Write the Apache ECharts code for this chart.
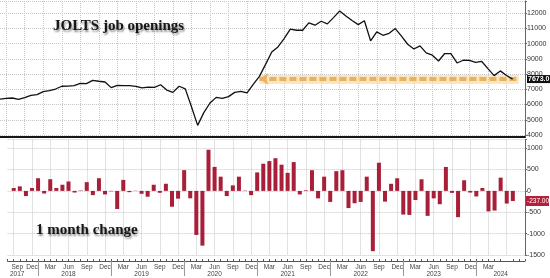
<!DOCTYPE html>
<html><head><meta charset="utf-8">
<script src="https://cdn.jsdelivr.net/npm/echarts@6/dist/echarts.min.js"></script>
<style>html,body{margin:0;padding:0;background:#fff}#c{width:550px;height:278px}</style>
</head><body><div id="c"></div>
<script>
const months = [
'Aug 2017','Sep 2017','Oct 2017','Nov 2017','Dec 2017',
'Jan 2018','Feb 2018','Mar 2018','Apr 2018','May 2018','Jun 2018','Jul 2018','Aug 2018','Sep 2018','Oct 2018','Nov 2018','Dec 2018',
'Jan 2019','Feb 2019','Mar 2019','Apr 2019','May 2019','Jun 2019','Jul 2019','Aug 2019','Sep 2019','Oct 2019','Nov 2019','Dec 2019',
'Jan 2020','Feb 2020','Mar 2020','Apr 2020','May 2020','Jun 2020','Jul 2020','Aug 2020','Sep 2020','Oct 2020','Nov 2020','Dec 2020',
'Jan 2021','Feb 2021','Mar 2021','Apr 2021','May 2021','Jun 2021','Jul 2021','Aug 2021','Sep 2021','Oct 2021','Nov 2021','Dec 2021',
'Jan 2022','Feb 2022','Mar 2022','Apr 2022','May 2022','Jun 2022','Jul 2022','Aug 2022','Sep 2022','Oct 2022','Nov 2022','Dec 2022',
'Jan 2023','Feb 2023','Mar 2023','Apr 2023','May 2023','Jun 2023','Jul 2023','Aug 2023','Sep 2023','Oct 2023','Nov 2023','Dec 2023',
'Jan 2024','Feb 2024','Mar 2024','Apr 2024','May 2024','Jun 2024','Jul 2024','Aug 2024','Sep 2024'
];
// JOLTS job openings (thousands), Aug 2017 .. Jul 2024
const openings = [
6360,6410,6430,6340,6450,
6600,6650,6850,6910,7020,7200,7210,7240,7390,7370,7590,7530,
7480,7110,7260,7240,7240,7200,7090,7150,7130,7300,6950,6800,
7200,7030,5850,4630,5470,6100,6470,6410,6520,6800,6870,6760,
7330,7850,8640,9450,9780,10330,10950,10880,10880,11360,11210,11470,
11300,11710,12150,11820,11520,11250,11500,10180,10770,10550,10680,10990,
10490,9960,9650,9850,9390,9240,8860,9350,9350,8730,8910,8900,
8770,8830,8360,7900,8210,7910,7673
];
// 1 month change (thousands)
const changes = [
null,68,106,-121,68,
296,-61,273,68,144,220,-38,10,205,-99,296,-83,
-10,-424,258,-30,5,-68,-136,144,-45,167,-371,-182,
485,-174,-1031,-1281,963,561,333,-121,129,333,8,-99,
432,636,697,765,613,423,674,-84,15,484,-175,333,
-258,462,484,-402,-289,-258,333,-1410,659,-251,166,295,
-554,-562,-213,272,-584,-175,-312,560,-46,-615,249,-39,
-130,67,-480,-460,310,-296,-237
];
const labelMonths = ['Mar','Jun','Sep','Dec'];
const yearLabels = {'Sep 2017':'2017','Jun 2018':'2018','Jun 2019':'2019','Jun 2020':'2020','Jun 2021':'2021','Jun 2022':'2022','Jun 2023':'2023','May 2024':'2024'};
const bandStart = 'Feb 2021', bandEnd = 'Aug 2024';
const lastIdx = openings.length - 1;
const lastOpening = openings[lastIdx];
const lastChange = changes[changes.length - 1];

const isLabelMonth = (i) => i <= lastIdx && labelMonths.indexOf(months[i].slice(0,3)) >= 0;
const showLabel = (i) => isLabelMonth(i) || !!yearLabels[months[i]];
const isJan = (i) => months[i].slice(0,3) === 'Jan';

const sans = 'Liberation Sans, Arial, sans-serif';
const serif = 'Liberation Serif, DejaVu Serif, serif';
const gridLine = {show:true, lineStyle:{color:'#c6c6c6', type:'dotted', width:1}};
const hiddenLine = {color:'rgba(0,0,0,0)', width:0};
const L = -1.8, W = 526.8;
const titleStyle = {fontFamily:serif, fontWeight:'bold', fontSize:15, color:'#161616',
  textShadowColor:'rgba(0,0,0,0.45)', textShadowBlur:2, textShadowOffsetX:1, textShadowOffsetY:2};

const chart = echarts.init(document.getElementById('c'), null, {renderer:'canvas'});
chart.setOption({
  animation:false,
  backgroundColor:'#fff',
  title:[
    {text:'JOLTS job openings', left:53, top:19, padding:0, textStyle:titleStyle},
    {text:'1 month change', left:36, top:223, padding:0, textStyle:titleStyle}
  ],
  grid:[
    {left:L, width:W, top:1, height:134},
    {left:L, width:W, top:139.6, height:117.4}
  ],
  xAxis:[
    {gridIndex:0, type:'category', data:months, boundaryGap:false, offset:2,
     axisLine:{show:true, onZero:false, lineStyle:{color:'#151515', width:2}},
     axisTick:{show:false}, axisLabel:{show:false},
     splitLine:Object.assign({interval:(i)=>isLabelMonth(i)}, gridLine)},
    {gridIndex:1, type:'category', data:months, boundaryGap:false, position:'bottom', offset:6,
     axisLine:{show:true, onZero:false, lineStyle:{color:'#555', width:1}},
     axisTick:{show:true, interval:0, length:2, inside:true, lineStyle:{color:'#555'}},
     axisLabel:{interval:(i)=>showLabel(i), fontFamily:sans, fontSize:6.5, color:'#444', margin:2, lineHeight:7.5,
       formatter:(v, i)=>{
         const m = isLabelMonth(i) ? v.slice(0,3) : '';
         const y = yearLabels[v] ? yearLabels[v] : '';
         if (i === 1) return '{f|' + m + '}\n{f|' + y + '}';
         return y ? (m + '\n' + y) : m;
       },
       rich:{f:{padding:[0,0,0,7], fontFamily:sans, fontSize:6.5, color:'#444', lineHeight:7.5}}},
     splitLine:Object.assign({interval:(i)=>isLabelMonth(i)}, gridLine)},
    {gridIndex:1, type:'category', data:months, boundaryGap:false, position:'bottom', offset:6,
     axisLine:{show:false, onZero:false},
     axisTick:{show:true, interval:(i)=>isJan(i), length:15, lineStyle:{color:'#999'}},
     axisLabel:{show:false}, splitLine:{show:false}}
  ],
  yAxis:[
    {gridIndex:0, type:'value', position:'right', min:4000, max:12800, interval:1000,
     axisLine:{show:true, lineStyle:{color:'#666'}},
     axisTick:{show:true, length:2, lineStyle:{color:'#666'}},
     axisLabel:{fontFamily:sans, fontSize:7, color:'#333', margin:2,
       formatter:(v)=> (v % 1000 === 0 ? String(v) : '')},
     splitLine:gridLine},
    {gridIndex:1, type:'value', position:'right', min:-1500, max:1200, interval:500,
     axisLine:{show:true, lineStyle:{color:'#666'}},
     axisTick:{show:true, length:2, lineStyle:{color:'#666'}},
     axisLabel:{fontFamily:sans, fontSize:7, color:'#333', margin:2,
       formatter:(v)=> (v % 500 === 0 ? String(v) : '')},
     splitLine:gridLine}
  ],
  series:[
    {type:'line', xAxisIndex:0, yAxisIndex:0, data:openings, symbol:'none', silent:true,
     lineStyle:{color:'#111', width:1.3}, z:5,
     markLine:{silent:true, symbol:'none', animation:false, z:3,
       data:[
         [{coord:[bandStart, lastOpening], lineStyle:{color:'rgba(247,214,150,0.6)', width:9, type:'solid'}, label:{show:false}},
          {coord:[bandEnd, lastOpening]}],
         [{coord:[bandStart, lastOpening], symbol:'arrow', symbolSize:9, lineStyle:{color:'#e9b262', width:4, type:[7,3]}, label:{show:false}},
          {coord:[bandEnd, lastOpening], symbol:'none'}]
       ]}},
    {type:'line', xAxisIndex:0, yAxisIndex:0, data:[], silent:true,
     markLine:{silent:true, symbol:'none', animation:false, z:6,
       data:[{yAxis:lastOpening, lineStyle:hiddenLine, label:{show:true, position:'end', distance:2,
           formatter:lastOpening.toFixed(1), backgroundColor:'#111', color:'#fff', fontFamily:sans, fontSize:7, fontWeight:'bold', padding:[1,1,0,1]}}]}},
    {type:'bar', xAxisIndex:1, yAxisIndex:1, data:changes, barWidth:4, silent:true,
     itemStyle:{color:'#a81f39'},
     markLine:{silent:true, symbol:'none', animation:false, z:6,
       data:[{yAxis:lastChange, lineStyle:hiddenLine, label:{show:true, position:'end', distance:1,
         formatter:lastChange.toFixed(2), backgroundColor:'#b3203b', color:'#fff', fontFamily:sans, fontSize:6.5, padding:[2,0,1,1]}}]}}
  ]
});
</script></body></html>
